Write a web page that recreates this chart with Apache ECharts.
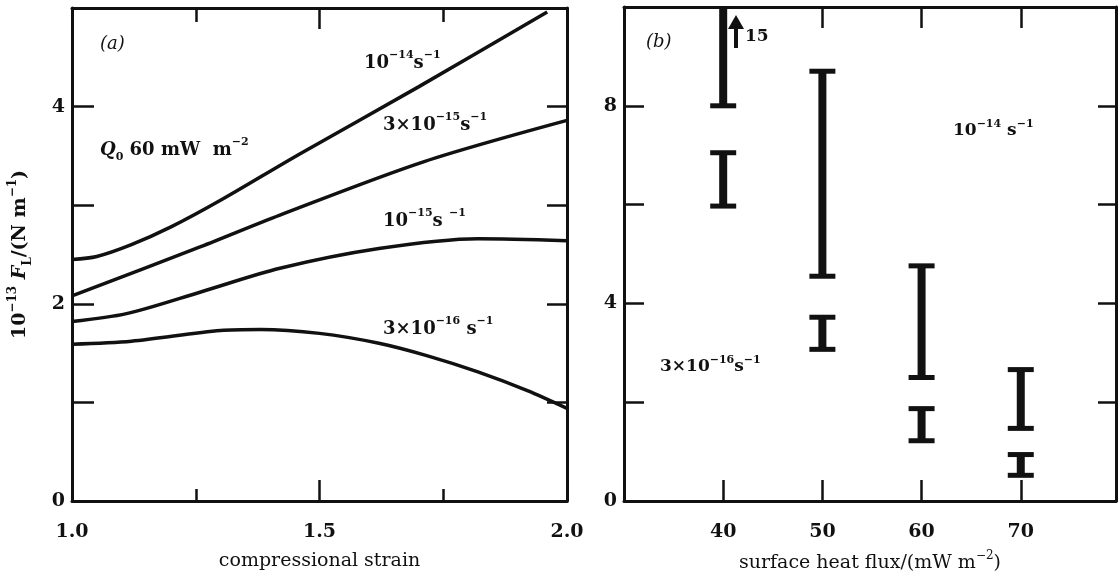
<!DOCTYPE html>
<html>
<head>
<meta charset="utf-8">
<script src="https://cdn.jsdelivr.net/npm/echarts@6/dist/echarts.min.js"></script>
<style>
  html, body { margin: 0; padding: 0; background: #fff; }
  #chart { width: 1118px; height: 578px; }
</style>
</head>
<body>
<div id="chart"></div>
<script>
// (a) force vs compressional strain, one curve per strain rate
const curve1e14 = [[1.0, 2.45], [1.05, 2.48], [1.12, 2.60], [1.2, 2.78], [1.3, 3.05], [1.46, 3.52], [1.7, 4.2], [1.96, 4.96]];
const curve3e15 = [[1.0, 2.08], [1.26, 2.58], [1.42, 2.90], [1.71, 3.44], [2.0, 3.86]];
const curve1e15 = [[1.0, 1.82], [1.11, 1.90], [1.26, 2.12], [1.42, 2.36], [1.62, 2.56], [1.82, 2.66], [2.0, 2.64]];
const curve3e16 = [[1.0, 1.59], [1.12, 1.62], [1.30, 1.73], [1.38, 1.74], [1.50, 1.70], [1.62, 1.60], [1.72, 1.47], [1.82, 1.31], [1.92, 1.12], [2.0, 0.94]];

// (b) ranges per surface heat flux: [flux, low, high]
const range1e14 = [[40, 8.0, 15], [50, 4.55, 8.7], [60, 2.5, 4.76], [70, 1.47, 2.66]];
const range3e16 = [[40, 5.97, 7.05], [50, 3.07, 3.72], [60, 1.22, 1.87], [70, 0.52, 0.94]];

// labelled ticks
const strainLabels = [1.0, 1.5, 2.0];
const forceLabelsA = [0, 2, 4];
const fluxLabels = [40, 50, 60, 70];
const forceLabelsB = [0, 4, 8];

const FONT = '"DejaVu Serif", "Liberation Serif", serif';
const INK = '#111';
const B_MAX = 10;

const richText = (size, weight) => ({
  n: { fontFamily: FONT, fontSize: size, fontWeight: weight, lineHeight: size + 8, color: INK, fill: INK },
  it: { fontFamily: FONT, fontSize: size, fontWeight: weight, fontStyle: 'italic', lineHeight: size + 8, color: INK, fill: INK },
  sup: { fontFamily: FONT, fontSize: Math.round(size * 0.62), fontWeight: weight, lineHeight: Math.round(size * 0.75), verticalAlign: 'top', color: INK, fill: INK },
  sub: { fontFamily: FONT, fontSize: Math.round(size * 0.62), fontWeight: weight, lineHeight: Math.round(size * 0.75), verticalAlign: 'bottom', color: INK, fill: INK }
});

const frameAxis = (extra) => Object.assign({
  type: 'value',
  axisLine: { show: true, onZero: false, lineStyle: { color: INK, width: 3 } },
  axisTick: { show: true, inside: true, length: 21, lineStyle: { color: INK, width: 2.5 } },
  axisLabel: { color: INK, fontFamily: FONT, fontWeight: 'bold', fontSize: 19 },
  splitLine: { show: false }
}, extra);

const pickLabel = (list, digits) => (v) => list.some(l => Math.abs(l - v) < 1e-6) ? v.toFixed(digits) : '';

const barRender = (params, api) => {
  const x = api.value(0);
  const lo = api.value(1);
  const hi = api.value(2);
  const top = api.coord([x, Math.min(hi, B_MAX)]);
  const bot = api.coord([x, lo]);
  const stemW = 8, capW = 26, capH = 5;
  const style = { fill: INK };
  const kids = [
    { type: 'rect', shape: { x: top[0] - stemW / 2, y: top[1], width: stemW, height: bot[1] - top[1] }, style },
    { type: 'rect', shape: { x: bot[0] - capW / 2, y: bot[1] - capH / 2, width: capW, height: capH }, style }
  ];
  if (hi <= B_MAX) {
    kids.push({ type: 'rect', shape: { x: top[0] - capW / 2, y: top[1] - capH / 2, width: capW, height: capH }, style });
  }
  return { type: 'group', children: kids };
};

const lineSeries = (data) => ({
  type: 'line', xAxisIndex: 0, yAxisIndex: 0, data,
  showSymbol: false, smooth: 0.3, clip: true,
  lineStyle: { color: INK, width: 3.5 }
});

const textAt = (x, y, text, size, weight) => ({
  type: 'text', x, y,
  style: { text, rich: richText(size, weight), verticalAlign: 'middle', fill: INK }
});

const chart = echarts.init(document.getElementById('chart'));

chart.setOption({
  backgroundColor: '#fff',
  animation: false,
  grid: [
    { left: 72, top: 8, width: 495, height: 493, outerBoundsMode: 'none' },
    { left: 624, top: 7, width: 492, height: 494, outerBoundsMode: 'none' }
  ],
  xAxis: [
    frameAxis({
      gridIndex: 0, position: 'bottom', min: 1, max: 2, interval: 0.5,
      minorTick: { show: true, splitNumber: 2, length: 12, lineStyle: { color: INK, width: 2.5 } },
      axisLabel: { color: INK, fontFamily: FONT, fontWeight: 'bold', fontSize: 19, margin: 22, formatter: pickLabel(strainLabels, 1) },
      name: 'compressional strain', nameLocation: 'middle', nameGap: 51,
      nameTextStyle: { color: INK, fontFamily: FONT, fontSize: 19 }
    }),
    frameAxis({
      gridIndex: 0, position: 'top', min: 1, max: 2, interval: 0.5,
      minorTick: { show: true, splitNumber: 2, length: 14, lineStyle: { color: INK, width: 2.5 } },
      axisLabel: { show: false }
    }),
    frameAxis({
      gridIndex: 1, position: 'bottom', min: 30, max: 79.6, interval: 10,
      axisLabel: { color: INK, fontFamily: FONT, fontWeight: 'bold', fontSize: 19, margin: 22, formatter: pickLabel(fluxLabels, 0) },
      name: '{n|surface heat flux/(mW m}{sup|−2}{n|)}', nameLocation: 'middle', nameGap: 49,
      nameTextStyle: { rich: richText(19, 'normal') }
    }),
    frameAxis({
      gridIndex: 1, position: 'top', min: 30, max: 79.6, interval: 10,
      axisLabel: { show: false }
    })
  ],
  yAxis: [
    frameAxis({
      gridIndex: 0, position: 'left', min: 0, max: 5, interval: 1,
      axisTick: { show: true, inside: true, length: 22, lineStyle: { color: INK, width: 2.5 } },
      axisLabel: { color: INK, fontFamily: FONT, fontWeight: 'bold', fontSize: 19, margin: 7, formatter: pickLabel(forceLabelsA, 0) },
      name: '{n|10}{sup|−13}{n| }{it|F}{sub|L}{n|/(N m}{sup|−1}{n|)}',
      nameLocation: 'middle', nameGap: 38,
      nameTextStyle: { rich: richText(19, 'bold') }
    }),
    frameAxis({
      gridIndex: 0, position: 'right', min: 0, max: 5, interval: 1,
      axisTick: { show: true, inside: true, length: 20, lineStyle: { color: INK, width: 2.5 } },
      axisLabel: { show: false }
    }),
    frameAxis({
      gridIndex: 1, position: 'left', min: 0, max: B_MAX, interval: 2,
      axisTick: { show: true, inside: true, length: 20, lineStyle: { color: INK, width: 2.5 } },
      axisLabel: { color: INK, fontFamily: FONT, fontWeight: 'bold', fontSize: 19, margin: 7, formatter: pickLabel(forceLabelsB, 0) }
    }),
    frameAxis({
      gridIndex: 1, position: 'right', min: 0, max: B_MAX, interval: 2,
      axisTick: { show: true, inside: true, length: 18, lineStyle: { color: INK, width: 2.5 } },
      axisLabel: { show: false }
    })
  ],
  series: [
    lineSeries(curve1e14),
    lineSeries(curve3e15),
    lineSeries(curve1e15),
    lineSeries(curve3e16),
    { type: 'custom', xAxisIndex: 2, yAxisIndex: 2, data: range1e14, renderItem: barRender, encode: { x: 0, y: [1, 2] } },
    { type: 'custom', xAxisIndex: 2, yAxisIndex: 2, data: range3e16, renderItem: barRender, encode: { x: 0, y: [1, 2] } }
  ],
  graphic: [
    textAt(100, 44, '{it|(a)}', 18, 'normal'),
    textAt(100, 150, '{it|Q}{sub|0}{n| 60 mW  m}{sup|−2}', 18, 'bold'),
    textAt(364, 63, '{n|10}{sup|−14}{n|s}{sup|−1}', 18, 'bold'),
    textAt(383, 125, '{n|3×10}{sup|−15}{n|s}{sup|−1}', 18, 'bold'),
    textAt(383, 221, '{n|10}{sup|−15}{n|s }{sup|−1}', 18, 'bold'),
    textAt(383, 329, '{n|3×10}{sup|−16}{n| s}{sup|−1}', 18, 'bold'),
    textAt(646, 42, '{it|(b)}', 18, 'normal'),
    textAt(953, 131, '{n|10}{sup|−14}{n| s}{sup|−1}', 17, 'bold'),
    textAt(660, 367, '{n|3×10}{sup|−16}{n|s}{sup|−1}', 17, 'bold'),
    {
      type: 'group',
      children: [
        { type: 'rect', shape: { x: 734, y: 26, width: 4, height: 22 }, style: { fill: INK } },
        { type: 'polygon', shape: { points: [[728, 29], [744, 29], [736, 15]] }, style: { fill: INK } }
      ]
    },
    textAt(745, 37, '{n|15}', 17, 'bold')
  ]
});
</script>
</body>
</html>
